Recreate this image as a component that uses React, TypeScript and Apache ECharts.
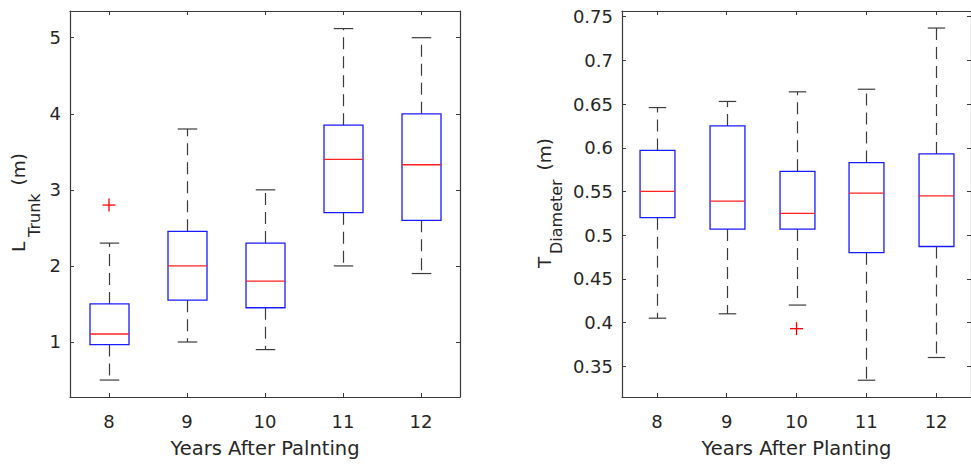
import React, { useEffect, useRef } from "react";
import * as echarts from "echarts";

const categories = ["8", "9", "10", "11", "12"];

// Left: trunk length (m)
const trunkLow = [0.5, 1.0, 0.9, 2.0, 1.9];
const trunkQ1 = [0.966, 1.55, 1.45, 2.7, 2.6];
const trunkMedian = [1.105, 2.0, 1.8, 3.4, 3.33];
const trunkQ3 = [1.5, 2.455, 2.3, 3.85, 4.0];
const trunkHigh = [2.3, 3.8, 3.0, 5.12, 5.0];
const trunkOutliers = [[0, 2.8]];

// Right: trunk diameter (m)
const diamLow = [0.405, 0.41, 0.42, 0.334, 0.36];
const diamQ1 = [0.52, 0.507, 0.507, 0.48, 0.487];
const diamMedian = [0.55, 0.539, 0.525, 0.548, 0.545];
const diamQ3 = [0.597, 0.625, 0.573, 0.583, 0.593];
const diamHigh = [0.646, 0.653, 0.664, 0.667, 0.737];
const diamOutliers = [[2, 0.393]];

const FONT = "'DejaVu Sans', 'Liberation Sans', Arial, sans-serif";
const AXIS_COLOR = "#3a3a3a";
const TEXT_COLOR = "#262626";

function rows(lo: number[], q1: number[], med: number[], q3: number[], hi: number[]) {
  return categories.map((_, i) => [i, lo[i], q1[i], med[i], q3[i], hi[i]]);
}

const renderBox = (params: any, api: any) => {
  const x = api.value(0);
  const band = api.size([1, 0])[0];
  const bw = band * 0.5;
  const cw = band * 0.25;
  const pLo = api.coord([x, api.value(1)]);
  const pQ1 = api.coord([x, api.value(2)]);
  const pMed = api.coord([x, api.value(3)]);
  const pQ3 = api.coord([x, api.value(4)]);
  const pHi = api.coord([x, api.value(5)]);
  const cx = Math.round(pLo[0]) + 0.5;
  const whisk = { stroke: "#3c3c3c", lineWidth: 1.2, lineDash: [12, 7], fill: null };
  const cap = { stroke: "#3c3c3c", lineWidth: 1.2, fill: null };
  return {
    type: "group",
    children: [
      { type: "line", shape: { x1: cx, y1: pQ3[1], x2: cx, y2: pHi[1] }, style: whisk },
      { type: "line", shape: { x1: cx, y1: pQ1[1], x2: cx, y2: pLo[1] }, style: whisk },
      { type: "line", shape: { x1: cx - cw / 2, y1: pHi[1], x2: cx + cw / 2, y2: pHi[1] }, style: cap },
      { type: "line", shape: { x1: cx - cw / 2, y1: pLo[1], x2: cx + cw / 2, y2: pLo[1] }, style: cap },
      {
        type: "rect",
        shape: { x: cx - bw / 2, y: pQ3[1], width: bw, height: pQ1[1] - pQ3[1] },
        style: { fill: null, stroke: "#1a1aff", lineWidth: 1.3 },
      },
      {
        type: "line",
        shape: { x1: cx - bw / 2, y1: pMed[1], x2: cx + bw / 2, y2: pMed[1] },
        style: { stroke: "#ff2020", lineWidth: 1.3 },
      },
    ],
  };
};

const renderPlus = (params: any, api: any) => {
  const p = api.coord([api.value(0), api.value(1)]);
  const h = 6.5;
  const st = { stroke: "#ff0000", lineWidth: 1.3 };
  return {
    type: "group",
    children: [
      { type: "line", shape: { x1: p[0] - h, y1: p[1], x2: p[0] + h, y2: p[1] }, style: st },
      { type: "line", shape: { x1: p[0], y1: p[1] - h, x2: p[0], y2: p[1] + h }, style: st },
    ],
  };
};

function xAxes(gridIndex: number, name: string) {
  return [
    {
      type: "category",
      gridIndex,
      data: categories,
      position: "bottom",
      boundaryGap: true,
      name,
      nameLocation: "middle",
      nameGap: 41,
      nameTextStyle: { fontFamily: FONT, fontSize: 19.5, color: TEXT_COLOR },
      axisLine: { show: true, lineStyle: { color: AXIS_COLOR, width: 1.2 } },
      axisTick: { show: true, inside: true, length: 4, alignWithLabel: true, lineStyle: { color: AXIS_COLOR } },
      axisLabel: { fontFamily: FONT, fontSize: 18, color: TEXT_COLOR, margin: 15 },
      splitLine: { show: false },
    },
    {
      type: "category",
      gridIndex,
      data: categories,
      position: "top",
      boundaryGap: true,
      axisLine: { show: true, lineStyle: { color: AXIS_COLOR, width: 1.2 } },
      axisTick: { show: true, inside: true, length: 4, alignWithLabel: true, lineStyle: { color: AXIS_COLOR } },
      axisLabel: { show: false },
      splitLine: { show: false },
    },
  ];
}

function yAxes(gridIndex: number, min: number, max: number, split: number) {
  const common = {
    type: "value",
    gridIndex,
    min,
    max,
    splitNumber: split,
    splitLine: { show: false },
  };
  return [
    {
      ...common,
      position: "left",
      axisLine: { show: true, lineStyle: { color: AXIS_COLOR, width: 1.2 } },
      axisTick: { show: true, inside: true, length: 4, lineStyle: { color: AXIS_COLOR } },
      axisLabel: {
        fontFamily: FONT,
        fontSize: 18,
        color: TEXT_COLOR,
        margin: 9,
        showMinLabel: false,
        showMaxLabel: false,
      },
    },
    {
      ...common,
      position: "right",
      axisLine: { show: true, lineStyle: { color: AXIS_COLOR, width: 1.2 } },
      axisTick: { show: true, inside: true, length: 4, lineStyle: { color: AXIS_COLOR } },
      axisLabel: { show: false },
    },
  ];
}

// rotated y-axis title with a subscript, built from three text pieces
function yTitle(
  main: string,
  sub: string,
  cx: number,
  startY: number,
  subStartY: number,
  subCx: number,
  unitEndY: number
) {
  const rot = Math.PI / 2;
  return [
    {
      type: "text",
      x: cx,
      y: startY,
      rotation: rot,
      style: { text: main, fontFamily: FONT, fontSize: 18.5, fill: TEXT_COLOR, align: "left", verticalAlign: "middle" },
    },
    {
      type: "text",
      x: subCx,
      y: subStartY,
      rotation: rot,
      style: { text: sub, fontFamily: FONT, fontSize: 16, fill: TEXT_COLOR, align: "left", verticalAlign: "middle" },
    },
    {
      type: "text",
      x: cx,
      y: unitEndY,
      rotation: rot,
      style: { text: "(m)", fontFamily: FONT, fontSize: 18.5, fill: TEXT_COLOR, align: "right", verticalAlign: "middle" },
    },
  ];
}

export default function App() {
  const ref = useRef<HTMLDivElement>(null);
  useEffect(() => {
    if (!ref.current) return;
    const chart = echarts.init(ref.current, undefined, { renderer: "svg" });
    chart.setOption({
      animation: false,
      backgroundColor: "#ffffff",
      grid: [
        { left: 70, top: 11, width: 390, height: 386 },
        { left: 622, top: 11, width: 361, height: 386 },
      ],
      xAxis: [...xAxes(0, "Years After Palnting"), ...xAxes(1, "Years After Planting")],
      yAxis: [...yAxes(0, 0.277, 5.351, 5), ...yAxes(1, 0.3148, 0.7565, 8)],
      graphic: [
        ...yTitle("L", "Trunk", 18.5, 252, 237, 34, 153),
        ...yTitle("T", "Diameter", 544, 268, 254, 556, 138),
      ],
      series: [
        {
          type: "custom",
          xAxisIndex: 0,
          yAxisIndex: 0,
          renderItem: renderBox,
          encode: { x: 0, y: [1, 2, 3, 4, 5] },
          data: rows(trunkLow, trunkQ1, trunkMedian, trunkQ3, trunkHigh),
        },
        {
          type: "custom",
          xAxisIndex: 0,
          yAxisIndex: 0,
          renderItem: renderPlus,
          encode: { x: 0, y: 1 },
          data: trunkOutliers,
        },
        {
          type: "custom",
          xAxisIndex: 2,
          yAxisIndex: 2,
          renderItem: renderBox,
          encode: { x: 0, y: [1, 2, 3, 4, 5] },
          data: rows(diamLow, diamQ1, diamMedian, diamQ3, diamHigh),
        },
        {
          type: "custom",
          xAxisIndex: 2,
          yAxisIndex: 2,
          renderItem: renderPlus,
          encode: { x: 0, y: 1 },
          data: diamOutliers,
        },
      ],
    });
    return () => chart.dispose();
  }, []);
  return (
    <div
      ref={ref}
      style={{ position: "absolute", left: 0, top: 0, width: 971, height: 464, overflow: "hidden" }}
    />
  );
}
